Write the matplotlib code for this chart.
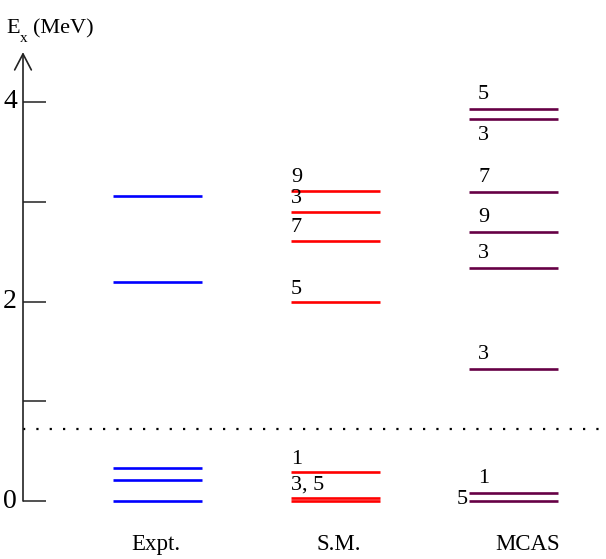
import matplotlib
matplotlib.use("Agg")
import matplotlib.pyplot as plt

# ---- data ----
columns = ["Expt.", "S.M.", "MCAS"]
expt_levels = [0.0, 0.21, 0.33, 2.20, 3.06]
sm_levels = [0.0, 0.03, 0.29, 1.99, 2.61, 2.90, 3.11]
sm_labels = ["", "3, 5", "1", "5", "7", "3", "9"]
mcas_levels = [0.0, 0.08, 1.32, 2.34, 2.70, 3.10, 3.83, 3.93]
mcas_labels = ["5", "1", "3", "3", "9", "7", "3", "5"]
threshold = 0.72
yticks = [0, 1, 2, 3, 4]
yticklabels = ["0", "", "2", "", "4"]

plt.rcParams['font.family'] = ['Liberation Serif', 'DejaVu Serif']

W, H = 606, 559
fig = plt.figure(figsize=(W / 100, H / 100), dpi=100)
ax = fig.add_axes([0, 0, 1, 1])
ax.set_xlim(0, W)
px = 99.75
ax.set_ylim(-(H - 501) / px, 501 / px)
ax.axis('off')

axis_x = 23
tick_len = 23
lw = 1.9

# vertical axis with open arrow
ax.annotate("", xy=(axis_x, 4.50), xytext=(axis_x, 0.0),
            arrowprops=dict(arrowstyle='->,head_length=1.15,head_width=0.6',
                            mutation_scale=10, lw=1.2, color='#222222',
                            shrinkA=0, shrinkB=0))
ax.hlines(yticks, axis_x, axis_x + tick_len, color='#333333', lw=1.2)
for y, t in zip(yticks, yticklabels):
    if t:
        ax.text(17, y, t, ha='right', va='center', fontsize=20)
# axis label: E with subscript x
ax.text(6, 4.69, "E", ha='left', va='baseline', fontsize=16)
ax.text(20, 4.60, "x", ha='left', va='baseline', fontsize=11)
ax.text(33, 4.69, "(MeV)", ha='left', va='baseline', fontsize=16)

# threshold dotted line
ax.plot([axis_x, W], [threshold, threshold], color='black', lw=1.6,
        linestyle=(0, (1, 5)))

col_x = [(113, 202), (291, 380), (469, 558)]
col_lab_x = [156, 339, 528]
colors = ['#0000ff', '#ff0000', '#660045']
fs = 16

# Expt
ax.hlines(expt_levels, col_x[0][0], col_x[0][1], color=colors[0], lw=lw)

# S.M.
ax.hlines(sm_levels, col_x[1][0], col_x[1][1], color=colors[1], lw=lw)
for y, t in zip(sm_levels, sm_labels):
    if t:
        ax.text(col_x[1][0], y + 0.035, t, ha='left', va='bottom', fontsize=fs)

# MCAS
ax.hlines(mcas_levels, col_x[2][0], col_x[2][1], color=colors[2], lw=lw)
for i, (y, t) in enumerate(zip(mcas_levels, mcas_labels)):
    if i == 0:
        ax.text(col_x[2][0] - 1, y + 0.02, t, ha='right', va='center', fontsize=fs)
    elif i == 6:
        ax.text(col_x[2][0] + 9, y - 0.07, t, ha='left', va='top', fontsize=fs)
    else:
        ax.text(col_x[2][0] + 9, y + 0.05, t, ha='left', va='bottom', fontsize=fs)

for x, name in zip(col_lab_x, columns):
    ax.text(x, -0.44, name, ha='center', va='center', fontsize=16.5)

fig.savefig("out.png", dpi=100)
